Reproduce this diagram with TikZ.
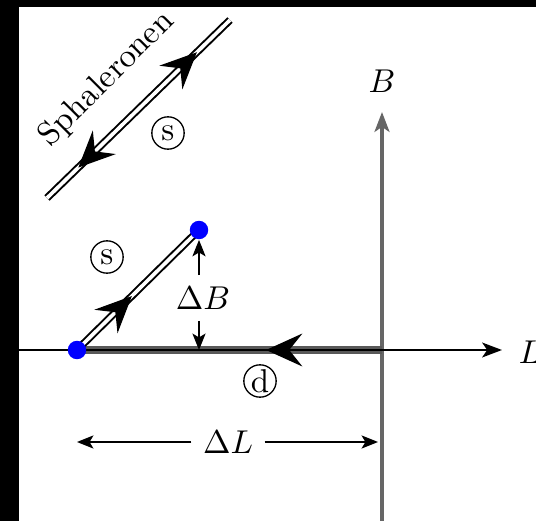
\documentclass[tikz,border=0pt]{standalone}
\usepackage{tikz}
\usetikzlibrary{arrows.meta,calc,decorations.markings}
\usepackage{amsmath}
\newcommand{\midtip}[3]{%
  % big tip on the way from #1 to #2, at fraction #3
  \path[decorate,decoration={markings,mark=at position #3 with
    {\arrow{Stealth[length=11pt,width=10pt,inset=4pt]}}}] (#1) -- (#2);
}

\begin{document}
\begin{tikzpicture}[x=0.303pt,y=-0.303pt,
  dbl/.style={double=white,double distance=1.1pt,line width=0.6pt},
  dot/.style={circle,fill=blue,minimum size=5.6pt,inner sep=0pt},
  tag/.style={circle,draw,thin,minimum size=9.8pt,inner sep=0pt},
  dimarrow/.style={-{Stealth[length=5pt,width=4pt,inset=1.2pt]},thin},
  axisarrow/.style={-{Stealth[length=6pt,width=4.5pt,inset=1.5pt]}}]
  \fill[black] (0,0) rectangle (536,521);
  \fill[white] (19,7) rectangle (536,521);
  \useasboundingbox (0,0) rectangle (536,521);

  \coordinate (o) at (382,350);
  \coordinate (p0) at (77,350);
  \coordinate (p1) at (199,230);
  \coordinate (s0) at (47,198);
  \coordinate (s1) at (230,20);
  \coordinate (xl) at (19,350);
  \coordinate (xr) at (502,350);
  \coordinate (yb) at (382,530);
  \coordinate (yt) at (382,112);

  % axes and the line along L
  \draw[black!60,line width=1.3pt,axisarrow] (yb) -- (yt);
  \node (lb) at (382,81) {$B$};
  \draw[black!65,line width=2.4pt] (o) -- (p0);
  \draw[line width=0.6pt,axisarrow] (xl) -- (xr);
  \node (ll) at (530,352) {$L$};
  \midtip{o}{p0}{0.38}

  % sphaleron lines
  \draw[dbl] (s0) -- (s1);
  \midtip{s0}{s1}{0.82}
  \midtip{s1}{s0}{0.83}
  \node[rotate=45] (sph) at (107,79) {Sphaleronen};
  \node[tag] (t1) at (168,133) {s};

  \draw[dbl] (p0) -- (p1);
  \midtip{p0}{p1}{0.45}
  \node[tag] (t2) at (107,257) {s};
  \node[dot] (d0) at (p0) {};
  \node[dot] (d1) at (p1) {};
  \node[tag] (t3) at (260,381) {d};

  % Delta B and Delta L
  \node (db) at (203,298) {$\Delta B$};
  \draw[dimarrow] (db.north -| d1) -- (d1.south);
  \draw[dimarrow] (db.south -| d1) -- (d1 |- o);
  \node (dl) at (228,442) {$\Delta L$};
  \draw[dimarrow] (dl.west) -- (p0 |- dl);
  \draw[dimarrow] (dl.east) -- ($(o |- dl)+(-4,0)$);
\end{tikzpicture}
\end{document}
